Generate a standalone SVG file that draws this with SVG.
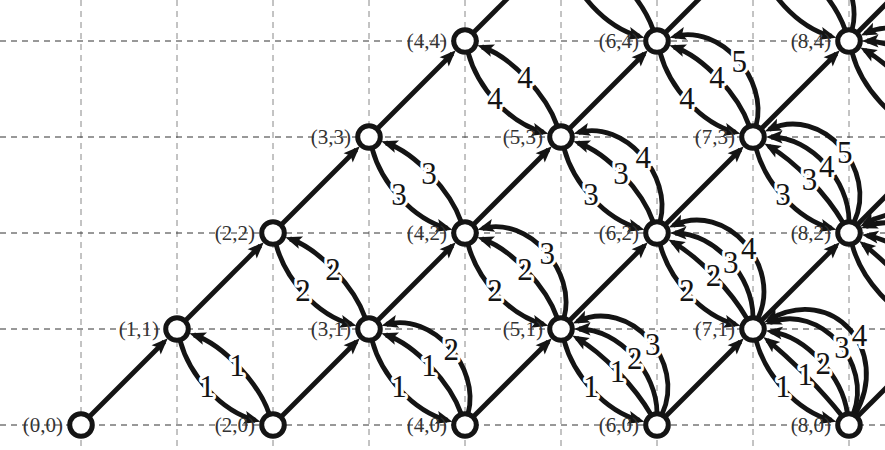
<svg xmlns="http://www.w3.org/2000/svg" width="885" height="450" viewBox="0 0 885 450">
<defs>
<style>
.grid line{stroke-width:1;stroke-dasharray:6 5}
.grid .v{stroke:#888}
.grid .h{stroke:#333}
.e{fill:none;stroke:#141414;stroke-width:4.8;marker-end:url(#ah)}
.lb{font-family:"Liberation Serif",serif;font-size:31px;fill:#141414;text-anchor:middle;stroke:#fff;stroke-width:6;paint-order:stroke;stroke-linejoin:round}
.nd circle{fill:#fff;stroke:#141414;stroke-width:5}
.nd text{font-family:"Liberation Serif",serif;font-size:21px;fill:#333;text-anchor:end}
</style>
<marker id="ah" viewBox="-13 -8 19 16" markerWidth="19" markerHeight="16" refX="0" refY="0" orient="auto" markerUnits="userSpaceOnUse"><path d="M5,0L-11.5,-6.5L-8,0L-11.5,6.5Z" fill="#141414"/></marker>
</defs>
<rect width="885" height="450" fill="#fff"/>
<g class="grid">
<line class="v" x1="81" y1="0" x2="81" y2="450"/><line class="v" x1="177" y1="0" x2="177" y2="450"/><line class="v" x1="273" y1="0" x2="273" y2="450"/><line class="v" x1="369" y1="0" x2="369" y2="450"/><line class="v" x1="465" y1="0" x2="465" y2="450"/><line class="v" x1="561" y1="0" x2="561" y2="450"/><line class="v" x1="657" y1="0" x2="657" y2="450"/><line class="v" x1="753" y1="0" x2="753" y2="450"/><line class="v" x1="849" y1="0" x2="849" y2="450"/>
<line class="h" x1="0" y1="41" x2="885" y2="41"/><line class="h" x1="0" y1="137" x2="885" y2="137"/><line class="h" x1="0" y1="233" x2="885" y2="233"/><line class="h" x1="0" y1="329" x2="885" y2="329"/><line class="h" x1="0" y1="425" x2="885" y2="425"/>
</g>
<g id="connectors">
<!-- straight up-right arrows -->
<path class="e" transform="translate(81,425)" d="M8.5,-8.5l74.77,-74.77"/>
<path class="e" transform="translate(177,329)" d="M8.5,-8.5l74.77,-74.77"/>
<path class="e" transform="translate(273,425)" d="M8.5,-8.5l74.77,-74.77"/>
<path class="e" transform="translate(273,233)" d="M8.5,-8.5l74.77,-74.77"/>
<path class="e" transform="translate(369,329)" d="M8.5,-8.5l74.77,-74.77"/>
<path class="e" transform="translate(369,137)" d="M8.5,-8.5l74.77,-74.77"/>
<path class="e" transform="translate(465,425)" d="M8.5,-8.5l74.77,-74.77"/>
<path class="e" transform="translate(465,233)" d="M8.5,-8.5l74.77,-74.77"/>
<path class="e" transform="translate(465,41)" d="M8.5,-8.5l74.77,-74.77"/>
<path class="e" transform="translate(561,329)" d="M8.5,-8.5l74.77,-74.77"/>
<path class="e" transform="translate(561,137)" d="M8.5,-8.5l74.77,-74.77"/>
<path class="e" transform="translate(657,425)" d="M8.5,-8.5l74.77,-74.77"/>
<path class="e" transform="translate(657,233)" d="M8.5,-8.5l74.77,-74.77"/>
<path class="e" transform="translate(657,41)" d="M8.5,-8.5l74.77,-74.77"/>
<path class="e" transform="translate(753,329)" d="M8.5,-8.5l74.77,-74.77"/>
<path class="e" transform="translate(753,137)" d="M8.5,-8.5l74.77,-74.77"/>
<path class="e" transform="translate(849,425)" d="M8.5,-8.5l74.77,-74.77"/>
<path class="e" transform="translate(849,233)" d="M8.5,-8.5l74.77,-74.77"/>
<path class="e" transform="translate(849,41)" d="M8.5,-8.5l74.77,-74.77"/>
<!-- forward curves down-right -->
<path class="e" transform="translate(177,329)" d="M3.11,11.59c9.32,34.77 40.73,70.43 75.51,79.75"/>
<path class="e" transform="translate(273,233)" d="M3.11,11.59c9.32,34.77 40.73,70.43 75.51,79.75"/>
<path class="e" transform="translate(369,329)" d="M3.11,11.59c9.32,34.77 40.73,70.43 75.51,79.75"/>
<path class="e" transform="translate(369,137)" d="M3.11,11.59c9.32,34.77 40.73,70.43 75.51,79.75"/>
<path class="e" transform="translate(465,233)" d="M3.11,11.59c9.32,34.77 40.73,70.43 75.51,79.75"/>
<path class="e" transform="translate(465,41)" d="M3.11,11.59c9.32,34.77 40.73,70.43 75.51,79.75"/>
<path class="e" transform="translate(561,329)" d="M3.11,11.59c9.32,34.77 40.73,70.43 75.51,79.75"/>
<path class="e" transform="translate(561,137)" d="M3.11,11.59c9.32,34.77 40.73,70.43 75.51,79.75"/>
<path class="e" transform="translate(561,-55)" d="M3.11,11.59c9.32,34.77 40.73,70.43 75.51,79.75"/>
<path class="e" transform="translate(657,233)" d="M3.11,11.59c9.32,34.77 40.73,70.43 75.51,79.75"/>
<path class="e" transform="translate(657,41)" d="M3.11,11.59c9.32,34.77 40.73,70.43 75.51,79.75"/>
<path class="e" transform="translate(753,329)" d="M3.11,11.59c9.32,34.77 40.73,70.43 75.51,79.75"/>
<path class="e" transform="translate(753,137)" d="M3.11,11.59c9.32,34.77 40.73,70.43 75.51,79.75"/>
<path class="e" transform="translate(753,-55)" d="M3.11,11.59c9.32,34.77 40.73,70.43 75.51,79.75"/>
<path class="e" transform="translate(849,233)" d="M3.11,11.59c9.32,34.77 40.73,70.43 75.51,79.75"/>
<path class="e" transform="translate(849,41)" d="M3.11,11.59c9.32,34.77 40.73,70.43 75.51,79.75"/>
<!-- back arrows up-left -->
<path class="e" transform="translate(273,425)" d="M-3.91,-11.35c-10.32,-29.97 -45.1,-68.47 -75.07,-78.79"/>
<path class="e" transform="translate(369,329)" d="M-3.91,-11.35c-10.32,-29.97 -45.1,-68.47 -75.07,-78.79"/>
<path class="e" transform="translate(465,425)" d="M-3.91,-11.35c-10.32,-29.97 -45.1,-68.47 -75.07,-78.79"/>
<path class="e" transform="translate(465,425)" d="M3.11,-11.59c12.35,-46.08 -35.64,-101.41 -81.72,-89.07"/>
<path class="e" transform="translate(465,233)" d="M-3.91,-11.35c-10.32,-29.97 -45.1,-68.47 -75.07,-78.79"/>
<path class="e" transform="translate(561,329)" d="M-3.91,-11.35c-10.32,-29.97 -45.1,-68.47 -75.07,-78.79"/>
<path class="e" transform="translate(561,329)" d="M3.11,-11.59c12.35,-46.08 -35.64,-101.41 -81.72,-89.07"/>
<path class="e" transform="translate(561,137)" d="M-3.91,-11.35c-10.32,-29.97 -45.1,-68.47 -75.07,-78.79"/>
<path class="e" transform="translate(657,425)" d="M-6,-10.39c-15.75,-27.28 -47.13,-60.86 -74.41,-76.61"/>
<path class="e" transform="translate(657,425)" d="M0,-12c0,-40.3 -37.7,-84 -78,-84"/>
<path class="e" transform="translate(657,425)" d="M5.07,-10.88c24.51,-52.57 -32.19,-117.24 -84.76,-92.73"/>
<path class="e" transform="translate(657,233)" d="M-3.91,-11.35c-10.32,-29.97 -45.1,-68.47 -75.07,-78.79"/>
<path class="e" transform="translate(657,233)" d="M3.11,-11.59c12.35,-46.08 -35.64,-101.41 -81.72,-89.07"/>
<path class="e" transform="translate(657,41)" d="M-3.91,-11.35c-10.32,-29.97 -45.1,-68.47 -75.07,-78.79"/>
<path class="e" transform="translate(753,329)" d="M-6,-10.39c-15.75,-27.28 -47.13,-60.86 -74.41,-76.61"/>
<path class="e" transform="translate(753,329)" d="M0,-12c0,-40.3 -37.7,-84 -78,-84"/>
<path class="e" transform="translate(753,329)" d="M5.07,-10.88c24.51,-52.57 -32.19,-117.24 -84.76,-92.73"/>
<path class="e" transform="translate(753,137)" d="M-3.91,-11.35c-10.32,-29.97 -45.1,-68.47 -75.07,-78.79"/>
<path class="e" transform="translate(753,137)" d="M3.11,-11.59c12.35,-46.08 -35.64,-101.41 -81.72,-89.07"/>
<path class="e" transform="translate(849,425)" d="M-7.39,-9.46c-17.98,-23.01 -51.42,-57.49 -74.43,-75.46"/>
<path class="e" transform="translate(849,425)" d="M-1.67,-11.88c-5.08,-36.15 -40.36,-76.53 -76.51,-81.61"/>
<path class="e" transform="translate(849,425)" d="M4.3,-11.2c19.5,-50.79 -32.71,-110.74 -83.5,-91.25"/>
<path class="e" transform="translate(849,425)" d="M6,-10.39c37,-64.09 -22.33,-131.61 -86.41,-94.61"/>
<path class="e" transform="translate(849,233)" d="M-6,-10.39c-15.75,-27.28 -47.13,-60.86 -74.41,-76.61"/>
<path class="e" transform="translate(849,233)" d="M0,-12c0,-40.3 -37.7,-84 -78,-84"/>
<path class="e" transform="translate(849,233)" d="M5.07,-10.88c24.51,-52.57 -32.19,-117.24 -84.76,-92.73"/>
<path class="e" transform="translate(849,41)" d="M-3.91,-11.35c-10.32,-29.97 -45.1,-68.47 -75.07,-78.79"/>
<path class="e" transform="translate(849,41)" d="M3.11,-11.59c12.35,-46.08 -35.64,-101.41 -81.72,-89.07"/>
<path class="e" transform="translate(945,329)" d="M-7.39,-9.46c-17.98,-23.01 -51.42,-57.49 -74.43,-75.46"/>
<path class="e" transform="translate(945,329)" d="M-1.67,-11.88c-5.08,-36.15 -40.36,-76.53 -76.51,-81.61"/>
<path class="e" transform="translate(945,329)" d="M4.3,-11.2c19.5,-50.79 -32.71,-110.74 -83.5,-91.25"/>
<path class="e" transform="translate(945,329)" d="M6,-10.39c37,-64.09 -22.33,-131.61 -86.41,-94.61"/>
<path class="e" transform="translate(945,137)" d="M-6,-10.39c-15.75,-27.28 -47.13,-60.86 -74.41,-76.61"/>
<path class="e" transform="translate(945,137)" d="M0,-12c0,-40.3 -37.7,-84 -78,-84"/>
<path class="e" transform="translate(945,137)" d="M5.07,-10.88c24.51,-52.57 -32.19,-117.24 -84.76,-92.73"/>
</g>
<g id="edge-labels" class="lb">
<text x="206.9" y="397">1</text>
<text x="302.9" y="301">2</text>
<text x="398.9" y="397">1</text>
<text x="398.9" y="205">3</text>
<text x="494.9" y="301">2</text>
<text x="494.9" y="109">4</text>
<text x="590.9" y="397">1</text>
<text x="590.9" y="205">3</text>
<text x="686.9" y="301">2</text>
<text x="686.9" y="109">4</text>
<text x="782.9" y="397">1</text>
<text x="782.9" y="205">3</text>
<text x="237" y="376">1</text>
<text x="333" y="280">2</text>
<text x="429" y="376">1</text>
<text x="451.2" y="360">2</text>
<text x="429" y="184">3</text>
<text x="525" y="280">2</text>
<text x="547.2" y="264">3</text>
<text x="525" y="88">4</text>
<text x="617.4" y="381.5">1</text>
<text x="634.7" y="368.5">2</text>
<text x="652.8" y="354.5">3</text>
<text x="621" y="184">3</text>
<text x="643.2" y="168">4</text>
<text x="713.4" y="285.5">2</text>
<text x="730.7" y="272.5">3</text>
<text x="748.8" y="258.5">4</text>
<text x="717" y="88">4</text>
<text x="739.2" y="72">5</text>
<text x="805.2" y="385">1</text>
<text x="823.2" y="373.5">2</text>
<text x="841.9" y="357.5">3</text>
<text x="859.6" y="345.5">4</text>
<text x="809.4" y="189.5">3</text>
<text x="826.7" y="176.5">4</text>
<text x="844.8" y="162.5">5</text>
</g>
<g id="n0-0" class="nd"><circle cx="81" cy="425" r="11.3"/><text x="63" y="431.5">(0,0)</text></g>
<g id="n1-1" class="nd"><circle cx="177" cy="329" r="11.3"/><text x="159" y="335.5">(1,1)</text></g>
<g id="n2-0" class="nd"><circle cx="273" cy="425" r="11.3"/><text x="255" y="431.5">(2,0)</text></g>
<g id="n2-2" class="nd"><circle cx="273" cy="233" r="11.3"/><text x="255" y="239.5">(2,2)</text></g>
<g id="n3-1" class="nd"><circle cx="369" cy="329" r="11.3"/><text x="351" y="335.5">(3,1)</text></g>
<g id="n3-3" class="nd"><circle cx="369" cy="137" r="11.3"/><text x="351" y="143.5">(3,3)</text></g>
<g id="n4-0" class="nd"><circle cx="465" cy="425" r="11.3"/><text x="447" y="431.5">(4,0)</text></g>
<g id="n4-2" class="nd"><circle cx="465" cy="233" r="11.3"/><text x="447" y="239.5">(4,2)</text></g>
<g id="n4-4" class="nd"><circle cx="465" cy="41" r="11.3"/><text x="447" y="47.5">(4,4)</text></g>
<g id="n5-1" class="nd"><circle cx="561" cy="329" r="11.3"/><text x="543" y="335.5">(5,1)</text></g>
<g id="n5-3" class="nd"><circle cx="561" cy="137" r="11.3"/><text x="543" y="143.5">(5,3)</text></g>
<g id="n6-0" class="nd"><circle cx="657" cy="425" r="11.3"/><text x="639" y="431.5">(6,0)</text></g>
<g id="n6-2" class="nd"><circle cx="657" cy="233" r="11.3"/><text x="639" y="239.5">(6,2)</text></g>
<g id="n6-4" class="nd"><circle cx="657" cy="41" r="11.3"/><text x="639" y="47.5">(6,4)</text></g>
<g id="n7-1" class="nd"><circle cx="753" cy="329" r="11.3"/><text x="735" y="335.5">(7,1)</text></g>
<g id="n7-3" class="nd"><circle cx="753" cy="137" r="11.3"/><text x="735" y="143.5">(7,3)</text></g>
<g id="n8-0" class="nd"><circle cx="849" cy="425" r="11.3"/><text x="831" y="431.5">(8,0)</text></g>
<g id="n8-2" class="nd"><circle cx="849" cy="233" r="11.3"/><text x="831" y="239.5">(8,2)</text></g>
<g id="n8-4" class="nd"><circle cx="849" cy="41" r="11.3"/><text x="831" y="47.5">(8,4)</text></g>
</svg>
